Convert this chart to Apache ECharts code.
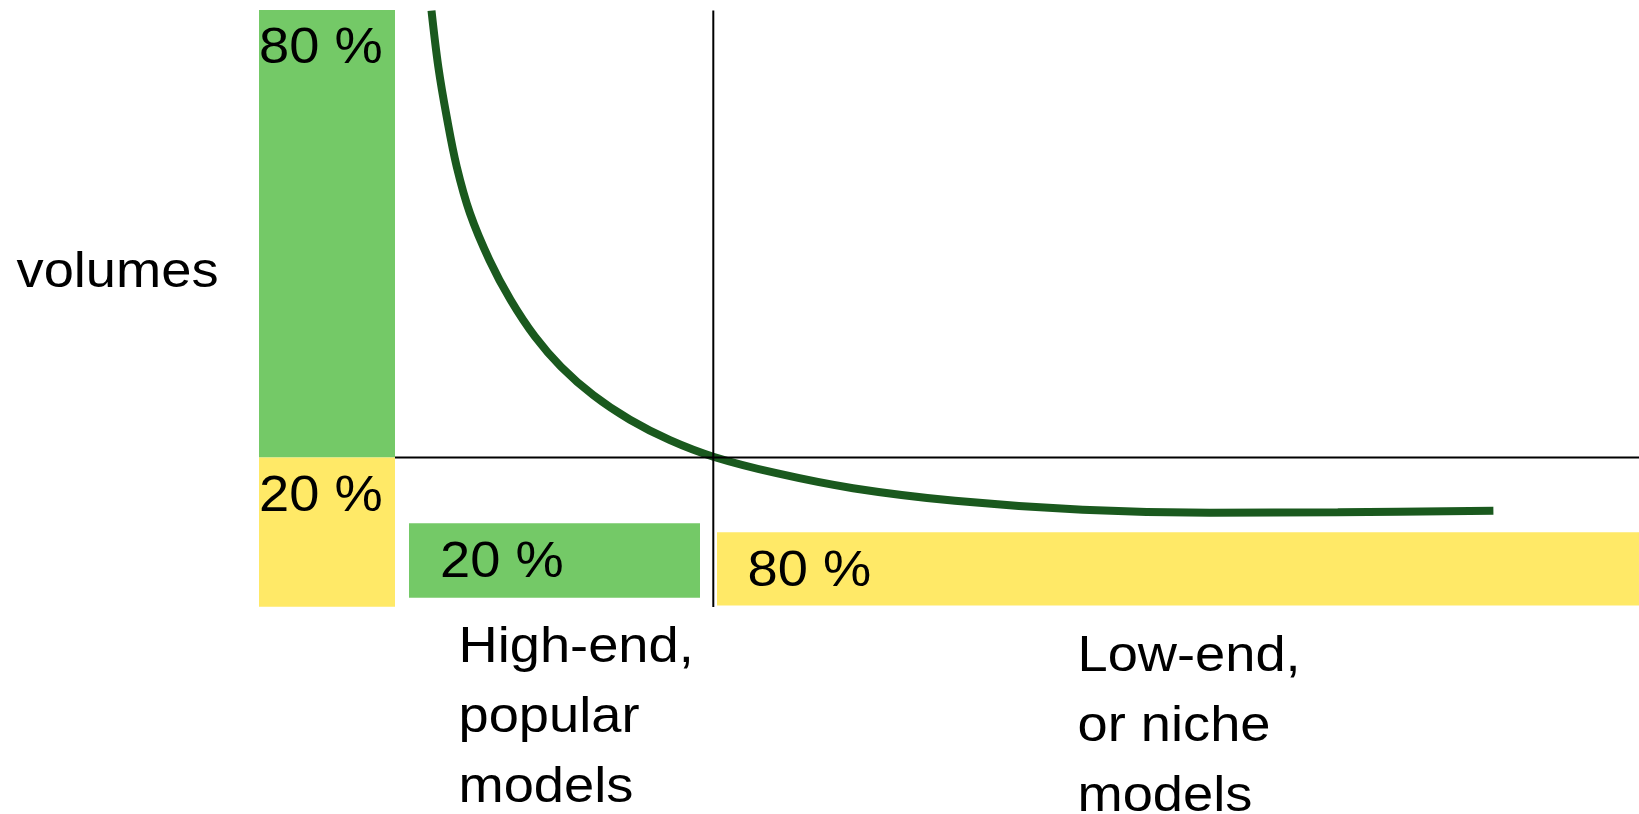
<!DOCTYPE html>
<html>
<head>
<meta charset="utf-8">
<title>80/20 volumes</title>
<script src="https://cdn.jsdelivr.net/npm/echarts@6/dist/echarts.min.js"></script>
<style>
  html, body { margin: 0; padding: 0; background: #ffffff; }
  #chart { width: 1639px; height: 814px; }
</style>
</head>
<body>
<div id="chart"></div>
<script>
// Share blocks: left column splits volume, bottom row splits the model range.
const blockLabels = ['80 %', '20 %', '20 %', '80 %'];
const blockX0 = [0, 0, 15.0, 45.8];
const blockX1 = [13.6, 13.6, 44.1, 138];
const blockY0 = [25.4, 0.55, 2.05, 0.75];
const blockY1 = [100, 25.4, 14.45, 12.95];

// Volume per model, models ranked from most to least sold.
const curveX = [17.25, 17.93, 18.77, 19.77, 21.1, 23.05, 25.15, 27.6, 30.2, 33.43,
                37.1, 41.1, 45.43, 51.75, 59.4, 69.6, 82.37, 95.1, 107.88, 123.44];
const curveY = [99.9, 90.55, 82.2, 73.9, 66.1, 58.3, 51.7, 45.55, 40.55, 35.8,
                31.7, 28.3, 25.55, 22.8, 20.3, 18.2, 16.7, 16.2, 16.3, 16.55];

// Split point between the two groups, and the vertical extent of the divider.
const splitX = 45.43;
const splitY = 25.4;
const dividerSpan = [0.5, 99.9];

const axisMaxX = 138;
const axisMaxY = 100;

// Captions
const yCaption = 'volumes';
const groupCaptions = ['High-end,\npopular\nmodels', 'Low-end,\nor niche\nmodels'];

// ---- styling ----
const GREEN = '#74c967';
const YELLOW = '#ffe967';
const CURVE = '#1a591e';
const FONT = '50px "Liberation Sans", Arial, sans-serif';
const TEXT_STRETCH = 1.085;
const blockFill = [GREEN, YELLOW, GREEN, YELLOW];
const labelInsetX = [0, 0, 31, 30.5];
const labelInsetY = 39.5;

const chart = echarts.init(document.getElementById('chart'), null, { renderer: 'canvas' });

const blockData = blockLabels.map((_, i) => [blockX0[i], blockX1[i], blockY0[i], blockY1[i], i]);

const option = {
  animation: false,
  backgroundColor: '#ffffff',
  grid: { left: 259, right: 0, top: 10, bottom: 204 },
  xAxis: { type: 'value', min: 0, max: axisMaxX, show: false },
  yAxis: { type: 'value', min: 0, max: axisMaxY, show: false },
  series: [
    {
      type: 'custom',
      name: 'shares',
      z: 1,
      data: blockData,
      renderItem: function (params, api) {
        const i = api.value(4);
        const tl = api.coord([api.value(0), api.value(3)]);
        const br = api.coord([api.value(1), api.value(2)]);
        return {
          type: 'group',
          children: [
            {
              type: 'rect',
              shape: { x: tl[0], y: tl[1], width: br[0] - tl[0], height: br[1] - tl[1] },
              style: { fill: blockFill[i] }
            },
            {
              type: 'text',
              x: tl[0] + labelInsetX[i],
              y: tl[1] + labelInsetY,
              scaleX: TEXT_STRETCH,
              style: {
                text: blockLabels[i],
                font: FONT,
                fill: '#000000',
                align: 'left',
                verticalAlign: 'middle'
              }
            }
          ]
        };
      }
    },
    {
      type: 'line',
      name: 'volume',
      z: 2,
      data: curveX.map((x, i) => [x, curveY[i]]),
      showSymbol: false,
      smooth: 0.35,
      lineStyle: { color: CURVE, width: 8, cap: 'butt' }
    },
    {
      type: 'custom',
      name: 'dividers',
      z: 3,
      data: [[splitX, splitY]],
      renderItem: function (params, api) {
        const hStart = api.coord([blockX1[0], api.value(1)]);
        const hEnd = api.coord([axisMaxX, api.value(1)]);
        const vTop = api.coord([api.value(0), dividerSpan[1]]);
        const vBottom = api.coord([api.value(0), dividerSpan[0]]);
        return {
          type: 'group',
          children: [
            {
              type: 'line',
              shape: { x1: hStart[0], y1: hStart[1], x2: hEnd[0], y2: hEnd[1] },
              style: { stroke: '#000000', lineWidth: 2 }
            },
            {
              type: 'line',
              shape: { x1: vTop[0], y1: vTop[1], x2: vBottom[0], y2: vBottom[1] },
              style: { stroke: '#000000', lineWidth: 2 }
            }
          ]
        };
      }
    }
  ],
  graphic: [
    {
      type: 'text',
      x: 16.5,
      y: 273.4,
      scaleX: TEXT_STRETCH,
      style: { text: yCaption, font: FONT, fill: '#000000', align: 'left', verticalAlign: 'middle' }
    },
    {
      type: 'text',
      x: 458.5,
      y: 613.4,
      scaleX: TEXT_STRETCH,
      style: { text: groupCaptions[0], font: FONT, lineHeight: 70, fill: '#000000', align: 'left', verticalAlign: 'top' }
    },
    {
      type: 'text',
      x: 1077.5,
      y: 622.4,
      scaleX: TEXT_STRETCH,
      style: { text: groupCaptions[1], font: FONT, lineHeight: 70, fill: '#000000', align: 'left', verticalAlign: 'top' }
    }
  ]
};

chart.setOption(option);
</script>
</body>
</html>
